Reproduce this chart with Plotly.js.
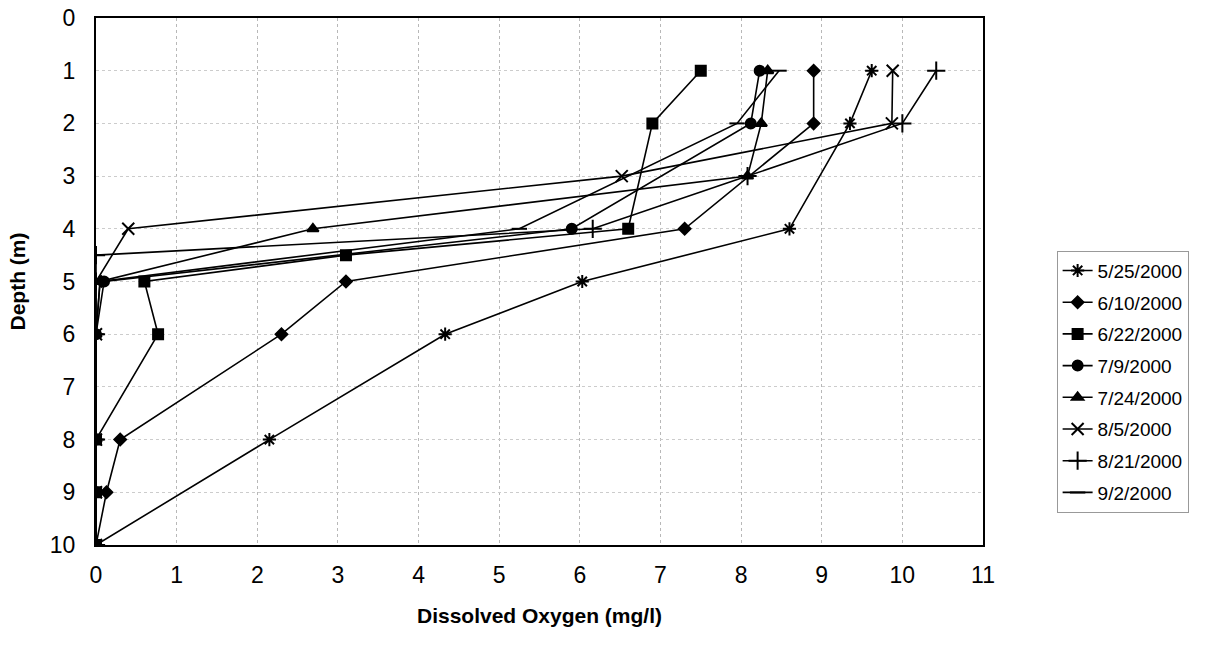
<!DOCTYPE html>
<html>
<head>
<meta charset="utf-8">
<script src="https://cdn.plot.ly/plotly-3.0.1.min.js"></script>
<style>html,body{margin:0;padding:0;background:#fff;}#chart{width:1205px;height:656px;}</style>
</head>
<body>
<div id="chart"></div>
<script>
// Series names (sampling dates)
const seriesNames = ["5/25/2000","6/10/2000","6/22/2000","7/9/2000","7/24/2000","8/5/2000","8/21/2000","9/2/2000"];

// Depth (m) and dissolved oxygen (mg/l) for each date
const depth_0525 = [1, 2, 4, 5, 6, 8, 10];
const do_0525    = [9.62, 9.35, 8.6, 6.03, 4.33, 2.15, 0.0];

const depth_0610 = [1, 2, 4, 5, 6, 8, 9, 10];
const do_0610    = [8.9, 8.9, 7.3, 3.1, 2.3, 0.3, 0.13, 0.0];

const depth_0622 = [1, 2, 4, 4.5, 5, 6, 8, 9, 10];
const do_0622    = [7.5, 6.9, 6.6, 3.1, 0.6, 0.77, 0.0, 0.0, 0.0];

const depth_0709 = [1, 2, 4, 5, 6, 8, 9, 10];
const do_0709    = [8.23, 8.12, 5.9, 0.1, 0.0, 0.0, 0.0, 0.0];

const depth_0724 = [1, 2, 3, 4, 5, 6, 8, 9, 10];
const do_0724    = [8.33, 8.25, 8.08, 2.69, 0.05, 0.0, 0.0, 0.0, 0.0];

const depth_0805 = [1, 2, 3, 4, 5, 6, 8, 9, 10];
const do_0805    = [9.88, 9.87, 6.52, 0.4, 0.0, 0.0, 0.0, 0.0, 0.0];

const depth_0821 = [1, 2, 3, 4, 4.5, 5, 6, 8, 9, 10];
const do_0821    = [10.42, 10.0, 8.08, 6.16, 0.0, 0.0, 0.0, 0.0, 0.0, 0.0];

const depth_0902 = [1, 2, 4, 5, 6, 8, 9, 10];
const do_0902    = [8.47, 7.95, 5.25, 0.05, 0.0, 0.0, 0.0, 0.0];

const xTicks = [0,1,2,3,4,5,6,7,8,9,10,11];
const yTicks = [0,1,2,3,4,5,6,7,8,9,10];

const depths = [depth_0525, depth_0610, depth_0622, depth_0709, depth_0724, depth_0805, depth_0821, depth_0902];
const values = [do_0525, do_0610, do_0622, do_0709, do_0724, do_0805, do_0821, do_0902];
const symbols = ["asterisk-open","diamond","square","circle","triangle-up","x-thin-open","cross-thin-open","line-ew-open"];
const sizes = [11, 9, 10, 10, 10, 12, 13, 11];

const traces = seriesNames.map((name, i) => ({
  type: "scatter",
  mode: "lines+markers",
  name: name,
  legendgroup: "g" + i,
  x: values[i],
  y: depths[i],
  line: {color: "#000", width: 1.6},
  marker: {symbol: symbols[i], size: sizes[i], color: "#000", line: {color: "#000", width: 2}}
}));

const layout = {
  width: 1205, height: 656,
  paper_bgcolor: "#fff", plot_bgcolor: "#fff",
  margin: {l: 96, r: 222, t: 18, b: 111},
  font: {family: "Liberation Sans, Arial, sans-serif", color: "#000"},
  xaxis: {
    range: [0, 11], tickvals: xTicks, ticktext: xTicks.map(String),
    showline: true, linecolor: "#000", linewidth: 2, mirror: true,
    showgrid: true, gridcolor: "#b8b8b8", griddash: "dot", gridwidth: 1,
    zeroline: false, ticks: "", tickfont: {size: 23},
    ticklabelstandoff: 8,
    title: {text: "Dissolved Oxygen (mg/l)", font: {size: 21, weight: "bold"}, standoff: 22}
  },
  yaxis: {
    range: [10, 0], tickvals: yTicks, ticktext: yTicks.map(String),
    showline: true, linecolor: "#000", linewidth: 2, mirror: true,
    showgrid: true, gridcolor: "#cccccc", griddash: "dot", gridwidth: 1,
    zeroline: false, ticks: "", tickfont: {size: 23},
    ticklabelstandoff: 14,
    title: {text: "Depth (m)", font: {size: 21, weight: "bold"}, standoff: 18}
  },
  showlegend: true,
  legend: {
    x: 1.083, xanchor: "left", y: 0.31, yanchor: "middle",
    bordercolor: "#999", borderwidth: 1, bgcolor: "#fff",
    font: {size: 19}, traceorder: "grouped", tracegroupgap: 4, itemwidth: 30
  }
};

Plotly.newPlot("chart", traces, layout, {staticPlot: true, displayModeBar: false});
</script>
</body>
</html>
